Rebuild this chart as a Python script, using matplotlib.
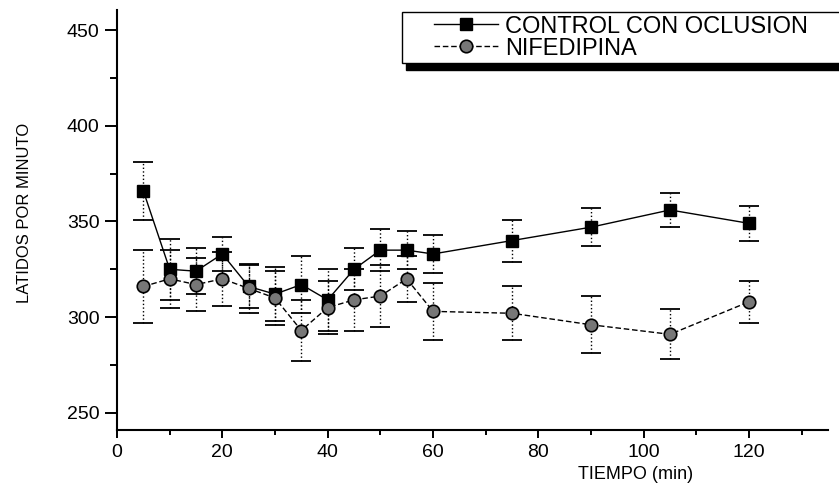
import matplotlib
matplotlib.use("Agg")
import matplotlib.pyplot as plt
from matplotlib.legend_handler import HandlerLine2D
from matplotlib.ticker import MultipleLocator

# values
tiempo = [5, 10, 15, 20, 25, 30, 35, 40, 45, 50, 55, 60, 75, 90, 105, 120]
control = [366, 325, 324, 333, 316, 312, 317, 309, 325, 335, 335, 333, 340, 347, 356, 349]
control_err = [15, 16, 12, 9, 11, 14, 15, 16, 11, 11, 10, 10, 11, 10, 9, 9]
nifedipina = [316, 320, 317, 320, 315, 310, 293, 305, 309, 311, 320, 303, 302, 296, 291, 308]
nifedipina_err = [19, 15, 14, 14, 13, 14, 16, 14, 16, 16, 12, 15, 14, 15, 13, 11]

plt.rcParams['font.family'] = ['Liberation Sans', 'DejaVu Sans']

fig = plt.figure(figsize=(8.39, 4.91), dpi=100)
ax = fig.add_axes([117/839, 1-430/491, (828-117)/839, (430-10)/491])

# error bars: dotted stems with solid caps
for y, e in [(control, control_err), (nifedipina, nifedipina_err)]:
    eb = ax.errorbar(tiempo, y, yerr=e, fmt='none', ecolor='k', elinewidth=1.0,
                     capsize=7, capthick=1.3, zorder=2)
    eb[2][0].set_linestyle(':')

l1, = ax.plot(tiempo, control, color='k', lw=1.0, marker='s', ms=9,
              mfc='k', mec='k', label='CONTROL CON OCLUSION', zorder=3)
l2, = ax.plot(tiempo, nifedipina, color='k', lw=1.0, ls=(0, (4, 2)), marker='o', ms=9,
              mfc='#777777', mec='k', mew=1.2, label='NIFEDIPINA', zorder=3)

ax.set_xlim(0, 135)
ax.set_ylim(241, 460.5)
ax.xaxis.set_major_locator(MultipleLocator(20))
ax.xaxis.set_minor_locator(MultipleLocator(10))
ax.yaxis.set_major_locator(MultipleLocator(50))
ax.yaxis.set_minor_locator(MultipleLocator(25))
ax.set_xticks(range(0, 121, 20))

for s in ['top', 'right']:
    ax.spines[s].set_visible(False)
for s in ['left', 'bottom']:
    ax.spines[s].set_linewidth(1.5)
ax.tick_params(axis='y', which='major', direction='out', length=8.5, width=1.4, labelsize=14, pad=4)
ax.tick_params(axis='y', which='minor', direction='out', length=5, width=1.4)
ax.tick_params(axis='x', which='major', direction='out', length=6, width=1.4, labelsize=14, pad=4)
ax.tick_params(axis='x', which='minor', direction='out', length=3.5, width=1.4)

ax.set_xlabel('TIEMPO (min)', fontsize=13)
ax.xaxis.set_label_coords(0.73, -0.086)
ax.set_ylabel('LATIDOS POR MINUTO', fontsize=12)
ax.yaxis.set_label_coords(-0.12, 0.517)

hx = HandlerLine2D(numpoints=1, xpad=1.2)
leg = ax.legend(handles=[l1, l2], loc='upper left',
                bbox_to_anchor=(402/839, 0.5, 0.56, 1-12/491-0.5),
                bbox_transform=fig.transFigure, mode='expand', borderaxespad=0,
                fontsize=17, labelspacing=0.0, borderpad=0.15, handlelength=3.9,
                handletextpad=0.3, fancybox=False, edgecolor='k',
                handler_map={l1: hx, l2: hx},
                shadow={'ox': 3, 'oy': -5, 'facecolor': 'k', 'edgecolor': 'k', 'alpha': 1})
leg.get_frame().set_linewidth(1.0)

fig.savefig('out.png', dpi=100)
